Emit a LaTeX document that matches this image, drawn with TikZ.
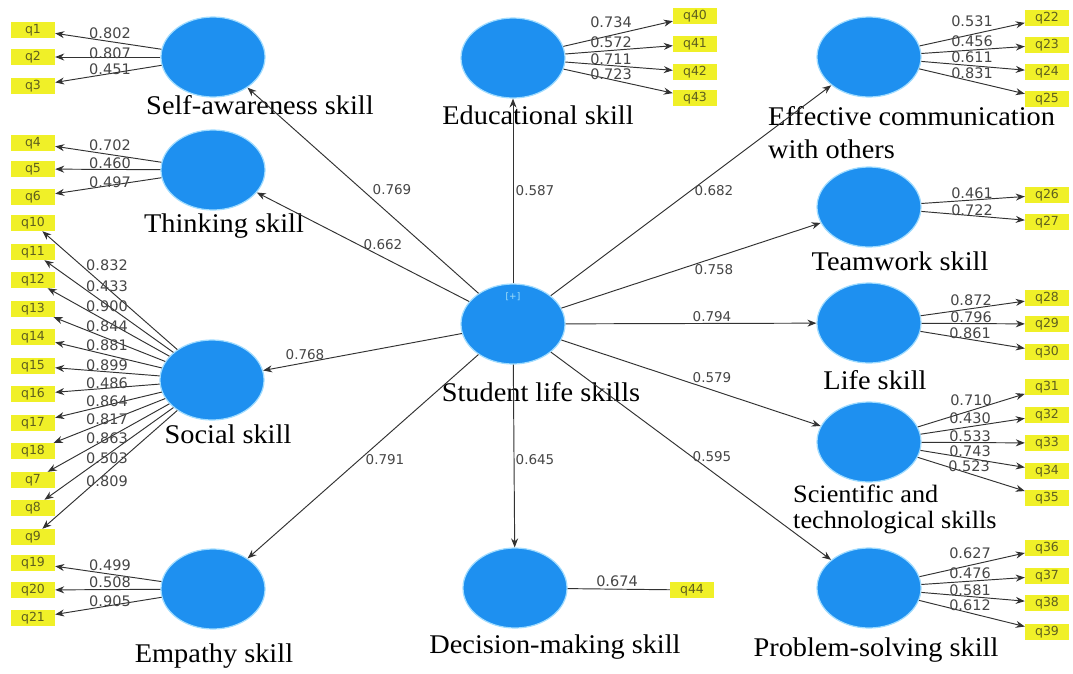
\documentclass[tikz,border=0pt]{standalone}
\usepackage{fontspec}
\setmainfont[FakeStretch=1.05]{Liberation Serif}
\newfontfamily\numfont{DejaVu Sans}
\usetikzlibrary{arrows.meta,shapes.geometric}
\definecolor{lvblue}{RGB}{30,144,240}
\definecolor{lvrim}{RGB}{160,220,255}
\definecolor{indfill}{RGB}{240,240,40}
\definecolor{indtxt}{RGB}{95,95,30}
\definecolor{edgec}{RGB}{50,50,50}
\definecolor{numc}{RGB}{70,70,70}
\begin{document}
\begin{tikzpicture}[x=1pt,y=-1pt,
  latent/.style={ellipse, fill=lvblue, draw=lvrim, line width=1.2pt, minimum width=104pt, minimum height=80pt, inner sep=0pt},
  indbox/.style={rectangle, fill=indfill, minimum width=44pt, minimum height=16pt, inner sep=0pt, font=\numfont\fontsize{12.5}{12.5}\selectfont, text=indtxt},
  load/.style={draw=edgec, line width=0.95pt, -{Stealth[length=9pt,width=7pt]}},
  plain/.style={draw=edgec, line width=0.95pt},
  lnum/.style={inner sep=0pt, font=\numfont\fontsize{14.5}{14.5}\selectfont, text=numc},
  snum/.style={inner sep=0pt, font=\numfont\fontsize{13.5}{13.5}\selectfont, text=numc},
  lvname/.style={inner sep=0pt, font=\fontsize{27}{33}\selectfont, text=black},
  lvsmall/.style={inner sep=0pt, font=\fontsize{25}{29}\selectfont, text=black, align=left}
]
\useasboundingbox (0,0) rectangle (1073,673);
\fill[white] (0,0) rectangle (1073,673);

% latent variables
\node[latent] (SA) at (213,57) {};
\node[latent] (TH) at (213,170) {};
\node[latent] (SO) at (212,380) {};
\node[latent] (EM) at (213,589) {};
\node[latent] (ED) at (513,58) {};
\node[latent] (EC) at (869,57) {};
\node[latent] (TW) at (869,207) {};
\node[latent] (LI) at (869,323) {};
\node[latent] (SC) at (869,442) {};
\node[latent] (PS) at (869,588) {};
\node[latent] (DM) at (515,588) {};
\node[latent] (ST) at (513,324) {};
\node[inner sep=0pt, font=\numfont\fontsize{9}{9}\selectfont, text=cyan!35!white] (plus) at (513,297) {[+]};

% names
\node[lvname] (nSA) at (260,105) {Self-awareness skill};
\node[lvname] (nTH) at (224,226) {Thinking skill};
\node[lvname] (nSO) at (228,434) {Social skill};
\node[lvname] (nEM) at (214,656) {Empathy skill};
\node[lvname] (nED) at (538,115) {Educational skill};
\node[lvname, anchor=west] (nEC1) at (768,116) {Effective communication};
\node[lvname, anchor=west] (nEC2) at (768,149) {with others};
\node[lvname] (nTW) at (900,261) {Teamwork skill};
\node[lvname] (nLI) at (875,380) {Life skill};
\node[lvsmall, anchor=west] (nSC1) at (793,494) {Scientific and};
\node[lvsmall, anchor=west] (nSC2) at (793,523) {technological skills};
\node[lvname] (nPS) at (876,650) {Problem-solving skill};
\node[lvname] (nDM) at (555,647) {Decision-making skill};
\node[lvname] (nST) at (541,392) {Student life skills};

% indicators, left
\foreach \n/\y in {1/30,2/57,3/86,4/143,5/169,6/197,10/223,11/252,12/280,13/309,14/337,15/366,16/394,17/423,18/451,7/480,8/508,9/537,19/563,20/590,21/618}
  \node[indbox] (q\n) at (33,\y) {q\n};
% indicators, right
\foreach \n/\y in {22/18,23/45,24/72,25/99,26/195,27/222,28/298,29/324,30/352,31/387,32/415,33/443,34/471,35/498,36/548,37/576,38/603,39/632}
  \node[indbox] (q\n) at (1047,\y) {q\n};
\foreach \n/\y in {40/16,41/44,42/72,43/98}
  \node[indbox] (q\n) at (695,\y) {q\n};
\node[indbox] (q44) at (692,590) {q44};

% loadings
\foreach \n in {1,2,3} \draw[load] (SA) -- (q\n);
\foreach \n in {4,5,6} \draw[load] (TH) -- (q\n);
\foreach \n in {10,11,12,13,14,15,16,17,18,7,8,9} \draw[load] (SO) -- (q\n);
\foreach \n in {19,20,21} \draw[load] (EM) -- (q\n);
\foreach \n in {40,41,42,43} \draw[load] (ED) -- (q\n);
\foreach \n in {22,23,24,25} \draw[load] (EC) -- (q\n);
\foreach \n in {26,27} \draw[load] (TW) -- (q\n);
\foreach \n in {28,29,30} \draw[load] (LI) -- (q\n);
\foreach \n in {31,32,33,34,35} \draw[load] (SC) -- (q\n);
\foreach \n in {36,37,38,39} \draw[load] (PS) -- (q\n);
\draw[plain] (DM) -- (q44);

% loading values
\foreach \v/\x/\y [count=\i] in {0.802/110/33,0.807/110/53,0.451/110/69,
  0.702/110/145,0.460/110/163,0.497/110/182,
  0.832/107/265,0.433/107/286,0.900/107/306,0.844/107/326,0.881/107/345,0.899/107/365,
  0.486/107/383,0.864/107/401,0.817/107/419,0.863/107/438,0.503/107/458,0.809/107/481,
  0.499/110/565,0.508/110/582,0.905/110/601,
  0.734/611/22,0.572/611/42,0.711/611/59,0.723/611/74,
  0.531/972/21,0.456/972/41,0.611/972/57,0.831/972/73,
  0.461/972/193,0.722/972/210,
  0.872/971/300,0.796/971/317,0.861/970/333,
  0.710/971/400,0.430/970/418,0.533/970/436,0.743/970/451,0.523/969/466,
  0.627/970/553,0.476/970/573,0.581/970/590,0.612/970/605,
  0.674/617/581}
  \node[lnum] (lv\i) at (\x,\y) {\v};

% structural paths
\foreach \t in {SA,TH,SO,EM,ED,EC,TW,LI,SC,PS,DM} \draw[load] (ST) -- (\t);

\node[snum] (pSA) at (392,190) {0.769};
\node[snum] (pED) at (535,191) {0.587};
\node[snum] (pEC) at (714,191) {0.682};
\node[snum] (pTH) at (383,245) {0.662};
\node[snum] (pTW) at (714,270) {0.758};
\node[snum] (pSO) at (305,355) {0.768};
\node[snum] (pLI) at (712,317) {0.794};
\node[snum] (pSC) at (712,378) {0.579};
\node[snum] (pDM) at (535,460) {0.645};
\node[snum] (pEM) at (385,460) {0.791};
\node[snum] (pPS) at (712,457) {0.595};
\end{tikzpicture}
\end{document}
